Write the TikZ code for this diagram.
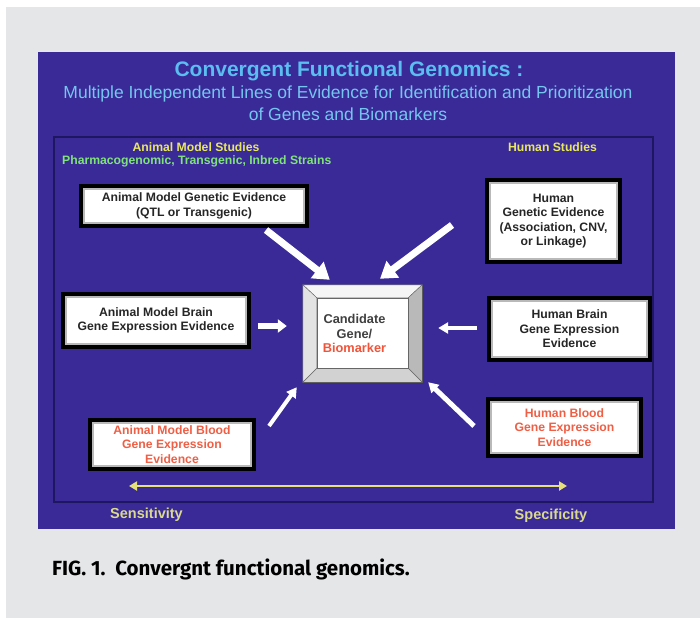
\documentclass[tikz,border=0pt]{standalone}
\usepackage{fontspec}
\usepackage{xcolor}
\usepackage{tikz}
\setmainfont{Liberation Sans}
\newfontfamily\capfont{Fira Sans}
\usetikzlibrary{arrows.meta}
\definecolor{bggray}{HTML}{E5E6E8}
\definecolor{panelblue}{HTML}{3A2A98}
\definecolor{framenavy}{HTML}{1E1660}
\definecolor{titleblue}{HTML}{5BBDF0}
\definecolor{subblue}{HTML}{74C6EE}
\definecolor{studyyellow}{HTML}{E8E860}
\definecolor{pharmgreen}{HTML}{80E27A}
\definecolor{scaleyellow}{HTML}{E6E07A}
\definecolor{labelkhaki}{HTML}{D9D98F}
\definecolor{bioRed}{HTML}{F2543A}
\definecolor{boxRed}{HTML}{EE5F45}

\begin{document}
\begin{tikzpicture}[x=1pt,y=-1pt]
\tikzstyle{every node}+=[inner sep=0pt]
\tikzstyle{evbox}=[draw=gray!55, line width=2pt, fill=white, preaction={draw=black, line width=10pt}, align=center, text=black!85, font=\bfseries\fontsize{12.2}{14.5}\selectfont]
\tikzstyle{redtext}=[text=boxRed]
\tikzstyle{bigarrow}=[white, line width=7pt, -{Triangle[width=20pt,length=16pt]}]
\tikzstyle{midarrow}=[white, line width=6pt, -{Triangle[width=13pt,length=9pt]}]
\tikzstyle{thinarrow}=[white, line width=4pt, -{Triangle[width=11pt,length=10pt]}]
\tikzstyle{studylabel}=[text=studyyellow, font=\bfseries\fontsize{12.2}{14}\selectfont]
\tikzstyle{scalelabel}=[text=labelkhaki, font=\bfseries\fontsize{14.5}{16}\selectfont]
\useasboundingbox (0,0) rectangle (700,618);
\fill [white] (0,0) rectangle (700,618);
\fill [bggray] (6,7) rectangle (700,618);
\fill [panelblue] (38,52) rectangle (675,529);
\draw [framenavy, line width=2pt] (54,137) rectangle (653,502);
\node [text=titleblue, font=\bfseries\fontsize{21}{24}\selectfont] (title) at (349,71) {Convergent Functional Genomics :};
\node [text=subblue, font=\fontsize{17.5}{20}\selectfont] (sub1) at (348,94) {Multiple Independent Lines of Evidence for Identification and Prioritization};
\node [text=subblue, font=\fontsize{17.5}{20}\selectfont] (sub2) at (348,114) {of Genes and Biomarkers};
\node [studylabel] (animal) at (196,147) {Animal Model Studies};
\node [studylabel, text=pharmgreen, anchor=west] (pharm) at (62,161) {Pharmacogenomic, Transgenic, Inbred Strains};
\node [studylabel] (human) at (552.5,147) {Human Studies};
\node [evbox, minimum width=220pt, minimum height=34pt] (agen) at (194,206) {Animal Model Genetic Evidence\\(QTL or Transgenic)};
\node [evbox, minimum width=127pt, minimum height=76pt] (hgen) at (553.5,221) {Human\\Genetic Evidence\\(Association, CNV,\\or Linkage)};
\node [evbox, minimum width=180pt, minimum height=47pt] (abrain) at (156,320.5) {Animal Model Brain\\Gene Expression Evidence};
\node [evbox, minimum width=155pt, minimum height=56pt] (hbrain) at (569.5,329) {Human Brain\\Gene Expression\\Evidence};
\node [evbox, redtext, minimum width=158pt, minimum height=43pt] (ablood) at (172,444.5) {Animal Model Blood\\Gene Expression\\Evidence};
\node [evbox, redtext, minimum width=147pt, minimum height=51pt] (hblood) at (564.5,427.5) {Human Blood\\Gene Expression\\Evidence};
\node [draw=black!70, fill=gray!40, minimum width=119pt, minimum height=97pt] (cand) at (362.5,333.5) {};
\coordinate (c1) at ([shift={(14pt,-13pt)}]cand.north west);
\coordinate (c2) at ([shift={(-14pt,-13pt)}]cand.north east);
\coordinate (c3) at ([shift={(-14pt,14pt)}]cand.south east);
\coordinate (c4) at ([shift={(14pt,14pt)}]cand.south west);
\filldraw [draw=black!60, fill=gray!8] (cand.north west) -- (cand.north east) -- (c2) -- (c1) -- cycle;
\filldraw [draw=black!60, fill=gray!55] (cand.north east) -- (cand.south east) -- (c3) -- (c2) -- cycle;
\filldraw [draw=black!60, fill=gray!35] (cand.south east) -- (cand.south west) -- (c4) -- (c3) -- cycle;
\filldraw [draw=black!60, fill=gray!22] (cand.south west) -- (cand.north west) -- (c1) -- (c4) -- cycle;
\filldraw [draw=black!60, fill=white] (c1) rectangle (c3);
\node [align=center, text=black!75, font=\bfseries\fontsize{12.8}{14.5}\selectfont] (candtxt) at ([xshift=-8pt]cand.center) {Candidate\\Gene/\\\textcolor{bioRed}{Biomarker}};
\draw [bigarrow] ([shift={(-39pt,-6pt)}]agen.south east) -- ([shift={(27pt,5pt)}]cand.north west);
\draw [bigarrow] ([shift={(-37pt,-4pt)}]hgen.west) -- ([shift={(17.5pt,6pt)}]cand.north);
\draw [midarrow] ([shift={(11pt,-5.5pt)}]abrain.east) -- ([shift={(-16pt,7.5pt)}]cand.west);
\draw [thinarrow] ([shift={(-14pt,1pt)}]hbrain.west) -- ([shift={(16pt,5.5pt)}]cand.east);
\draw [thinarrow] ([shift={(17pt,-4pt)}]ablood.north east) -- ([shift={(-6pt,-5pt)}]cand.south west);
\draw [thinarrow, line width=5pt] ([shift={(-16pt,-25pt)}]hblood.north west) -- ([shift={(6pt,0pt)}]cand.south east);
\coordinate (sensend) at (129,486);
\coordinate (specend) at (567,486);
\draw [scaleyellow, line width=2pt, {Triangle[width=9pt,length=8pt]}-{Triangle[width=9pt,length=8pt]}] (sensend) -- (specend);
\node [scalelabel] (sens) at (146.5,515) {Sensitivity};
\node [scalelabel] (spec) at (551,516) {Specificity};
\node [anchor=west, text=black, font=\capfont\bfseries\fontsize{20.5}{24}\selectfont] (caption) at (52,569) {FIG. 1.\ \ Convergnt functional genomics.};
\end{tikzpicture}
\end{document}
